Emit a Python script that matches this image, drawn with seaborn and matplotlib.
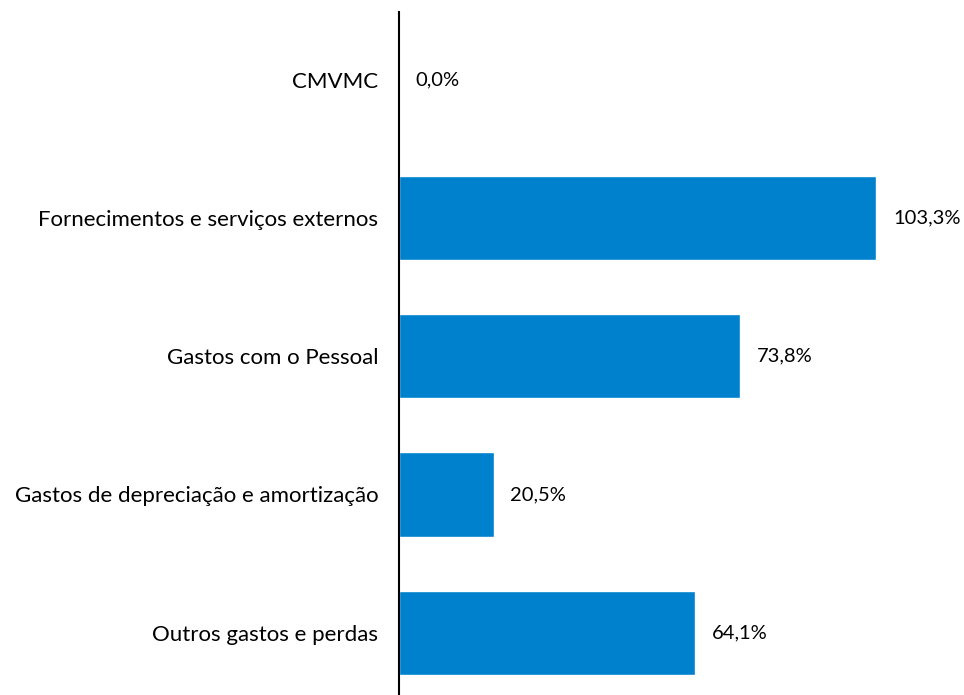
import matplotlib
matplotlib.use("Agg")
import matplotlib.pyplot as plt
import seaborn as sns
import pandas as pd

# dados do gráfico
categorias = [
    "CMVMC",
    "Fornecimentos e serviços externos",
    "Gastos com o Pessoal",
    "Gastos de depreciação e amortização",
    "Outros gastos e perdas",
]
valores = [0.0, 103.3, 73.8, 20.5, 64.1]
rotulos = ["0,0%", "103,3%", "73,8%", "20,5%", "64,1%"]

sns.set_style("white")
plt.rcParams['font.family'] = ['Lato', 'DejaVu Sans']

df = pd.DataFrame({"categoria": categorias, "valor": valores})

fig = plt.figure(figsize=(9.64, 6.95), dpi=100)
ax = fig.add_axes([0.414, 0.0, 0.586, 0.983])

sns.barplot(data=df, y="categoria", x="valor", color="#0081CD",
            saturation=1, width=0.61, ax=ax, orient="h")

for i, (v, txt) in enumerate(zip(valores, rotulos)):
    ax.annotate(txt, xy=(v, i), xytext=(12, 0), textcoords="offset points",
                va="center", ha="left", fontsize=14.5, color="#000000")

ax.set_xlim(0, 122.3)
ax.set_ylim(4.45, -0.49)
ax.set_xlabel("")
ax.set_ylabel("")
ax.set_xticks([])
ax.tick_params(axis="y", length=0, pad=15, labelsize=16, labelcolor="#000000")
for s in ["top", "right", "bottom"]:
    ax.spines[s].set_visible(False)
ax.spines["left"].set_color("#000000")
ax.spines["left"].set_linewidth(1.5)

fig.savefig("out.png", dpi=100)
